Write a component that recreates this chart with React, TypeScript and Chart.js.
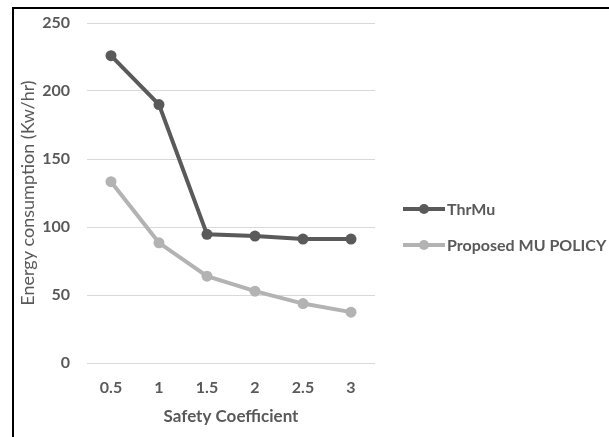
import React, { useEffect, useRef } from "react";
import { Chart, registerables } from "chart.js";

Chart.register(...registerables);

const categories = ["0.5", "1", "1.5", "2", "2.5", "3"];
const thrMu = [226, 190, 94.6, 93.3, 91.1, 91.1];
const proposed = [133.3, 88.4, 63.8, 52.8, 43.7, 37.4];
const seriesNames = ["ThrMu", "Proposed MU POLICY"];
const seriesColors = ["#5a5a5a", "#b3b3b3"];
const yTicks = [0, 50, 100, 150, 200, 250];

const FONT = "Lato, 'Open Sans', sans-serif";

const legendPlugin = {
  id: "customLegend",
  afterDraw(chart: any) {
    const ctx = chart.ctx;
    const x0 = 389;
    const ys = [200, 236];
    ctx.save();
    chart.data.datasets.forEach((ds: any, i: number) => {
      const y = ys[i];
      ctx.strokeStyle = ds.borderColor;
      ctx.lineWidth = 4;
      ctx.beginPath();
      ctx.moveTo(x0, y);
      ctx.lineTo(x0 + 42, y);
      ctx.stroke();
      ctx.fillStyle = ds.borderColor;
      ctx.beginPath();
      ctx.arc(x0 + 21, y, 5, 0, Math.PI * 2);
      ctx.fill();
      ctx.fillStyle = "#595959";
      ctx.font = `bold 16px ${FONT}`;
      ctx.textBaseline = "middle";
      ctx.textAlign = "left";
      ctx.fillText(ds.label, x0 + 44, y + 1);
    });
    ctx.restore();
  },
};

export default function App() {
  const ref = useRef<HTMLCanvasElement>(null);
  useEffect(() => {
    if (!ref.current) return;
    const chart = new Chart(ref.current, {
      type: "line",
      data: {
        labels: categories,
        datasets: [
          {
            label: seriesNames[0],
            data: thrMu,
            borderColor: seriesColors[0],
            backgroundColor: seriesColors[0],
            borderWidth: 4,
            pointRadius: 5.5,
            pointBorderWidth: 0,
            pointBackgroundColor: seriesColors[0],
            tension: 0,
          },
          {
            label: seriesNames[1],
            data: proposed,
            borderColor: seriesColors[1],
            backgroundColor: seriesColors[1],
            borderWidth: 4,
            pointRadius: 5.5,
            pointBorderWidth: 0,
            pointBackgroundColor: seriesColors[1],
            tension: 0,
          },
        ],
      },
      options: {
        animation: false,
        responsive: false,
        layout: { autoPadding: false, padding: { top: 14, right: 234, bottom: 0, left: 0 } },
        plugins: { legend: { display: false }, tooltip: { enabled: false } },
        scales: {
          x: {
            offset: true,
            afterFit: (axis: any) => {
              axis.height = 74;
            },
            grid: { display: false, drawTicks: false },
            border: { display: false },
            ticks: {
              padding: 15,
              maxRotation: 0,
              color: "#595959",
              font: { family: FONT, size: 16, weight: "bold" },
            },
            title: {
              display: true,
              text: "Safety Coefficient",
              color: "#595959",
              font: { family: FONT, size: 17, weight: "bold" },
              padding: { top: 0, bottom: 10 },
            },
          },
          y: {
            min: 0,
            max: 250,
            afterBuildTicks: (axis: any) => {
              axis.ticks = yTicks.map((v) => ({ value: v }));
            },
            afterFit: (axis: any) => {
              axis.width = 73;
              axis.paddingTop = 0;
              axis.paddingBottom = 0;
            },
            grid: { color: "#d9d9d9", lineWidth: 1, drawTicks: false },
            border: { display: false },
            ticks: {
              padding: 17,
              color: "#595959",
              font: { family: FONT, size: 16, weight: "bold" },
            },
            title: {
              display: true,
              text: "Energy consumption (Kw/hr)",
              color: "#595959",
              font: { family: FONT, size: 18, weight: "normal" },
              padding: { top: 3, bottom: 0 },
            },
          },
        },
      },
      plugins: [legendPlugin],
    });
    return () => chart.destroy();
  }, []);
  return (
    <div
      style={{
        position: "fixed",
        left: 12,
        top: 7,
        width: 597,
        height: 430,
        borderTop: "2px solid #000",
        borderLeft: "2px solid #000",
        boxSizing: "border-box",
        background: "#fff",
      }}
    >
      <canvas ref={ref} width={595} height={428} style={{ display: "block" }} />
    </div>
  );
}
